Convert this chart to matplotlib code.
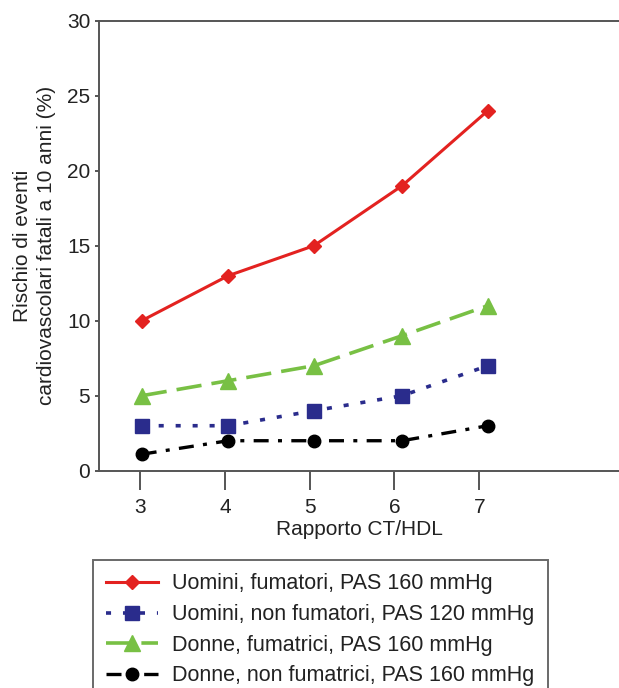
import matplotlib
matplotlib.use('Agg')
import matplotlib.pyplot as plt

plt.rcParams['font.family'] = ['Liberation Sans', 'DejaVu Sans']

# rapporto CT/HDL (i punti sono un filo spostati a destra nell'originale)
x_vals = [3.02, 4.04, 5.05, 6.09, 7.10]
x_ticks = [3, 4, 5, 6, 7]

uomini_fum = [10, 13, 15, 19, 24]
uomini_nonfum = [3, 3, 4, 5, 7]
donne_fum = [5, 6, 7, 9, 11]
donne_nonfum = [1.1, 2, 2, 2, 3]

labels = [
  'Uomini, fumatori, PAS 160 mmHg',
  'Uomini, non fumatori, PAS 120 mmHg',
  'Donne, fumatrici, PAS 160 mmHg',
  'Donne, non fumatrici, PAS 160 mmHg',
]

fig = plt.figure(figsize=(6.19, 6.88), dpi=100)
ax = fig.add_axes([0.1604, 0.3158, 0.84, 0.6541])

l1, = ax.plot(x_vals, uomini_fum, color='#e32220', lw=2.2, ls='-',
              marker='D', ms=7, label=labels[0])
l2, = ax.plot(x_vals, uomini_nonfum, color='#2a2c8c', lw=2.6,
              ls=(0, (1.4, 3.3)), marker='s', ms=9.5, label=labels[1])
l3, = ax.plot(x_vals, donne_fum, color='#78c044', lw=2.6,
              ls=(0, (7, 2.8)), marker='^', ms=11, label=labels[2])
l4, = ax.plot(x_vals, donne_nonfum, color='black', lw=2.4,
              ls=(0, (4.5, 2.8, 1.2, 2.8)), marker='o', ms=9, label=labels[3])

ax.set_xlim(2.52, 8.65)
ax.set_ylim(0, 30)
ax.set_xticks(x_ticks)
ax.set_yticks([0, 5, 10, 15, 20, 25, 30])

for s in ax.spines.values():
  s.set_color('#555555')
  s.set_linewidth(1.4)
ax.spines['right'].set_visible(False)

ax.tick_params(axis='x', length=13.5, width=1.4, color='#555555',
               labelsize=15, pad=6, labelcolor='#222222')
ax.tick_params(axis='y', length=3, width=1.4, color='#555555',
               labelsize=15, pad=3.5, labelcolor='#222222')

ax.set_xlabel('Rapporto CT/HDL', fontsize=15, labelpad=2.5, color='#222222')
ax.set_ylabel('Rischio di eventi\ncardiovascolari fatali a 10 anni (%)',
              fontsize=15, labelpad=8, linespacing=1.35, color='#222222')

leg = fig.legend(handles=[l1, l2, l3, l4], loc='upper left',
                 bbox_to_anchor=(93 / 619, 1 - 560 / 688),
                 fontsize=15.5, handlelength=2.4, handletextpad=0.65,
                 labelspacing=0.45, borderpad=0.62, frameon=True,
                 fancybox=False, borderaxespad=0, labelcolor='#222222')
leg.get_frame().set_edgecolor('#444444')
leg.get_frame().set_linewidth(1.4)

fig.savefig('out.png', dpi=100)
